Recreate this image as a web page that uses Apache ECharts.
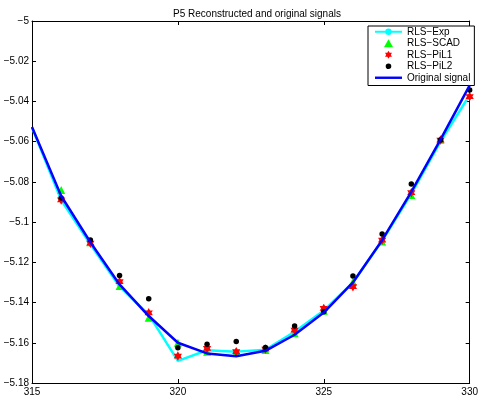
<!DOCTYPE html>
<html>
<head>
<meta charset="utf-8">
<script src="https://cdn.jsdelivr.net/npm/echarts@6/dist/echarts.min.js"></script>
<style>
html,body{margin:0;padding:0;background:#fff;}
#c{width:481px;height:400px;}
</style>
</head>
<body>
<div id="c"></div>
<script>
// ---- data ----
const titleText = 'P5 Reconstructed and original signals';
const seriesNames = ['RLS\u2212Exp', 'RLS\u2212SCAD', 'RLS\u2212PiL1', 'RLS\u2212PiL2', 'Original signal'];

const xLine = [315, 316, 317, 318, 319, 320, 321, 322, 323, 324, 325, 326, 327, 328, 329, 330];
const originalSignal = [-5.0527, -5.087, -5.110, -5.131, -5.1467, -5.160, -5.1653, -5.1667, -5.164, -5.156, -5.145, -5.130, -5.109, -5.085, -5.059, -5.032];
const rlsExp = [-5.053, -5.089, -5.111, -5.132, -5.146, -5.169, -5.1637, -5.1644, -5.1635, -5.1545, -5.144, -5.130, -5.1093, -5.086, -5.060, -5.0368];

const xPts = [316, 317, 318, 319, 320, 321, 322, 323, 324, 325, 326, 327, 328, 329, 330];
const rlsScad = [-5.084, -5.110, -5.1318, -5.1475, -5.160, -5.1644, -5.165, -5.1636, -5.1553, -5.1441, -5.1296, -5.1097, -5.0865, -5.059, -5.0297];
const rlsPil1 = [-5.089, -5.1105, -5.1296, -5.1451, -5.1666, -5.1628, -5.1644, -5.1631, -5.1537, -5.1429, -5.1321, -5.1089, -5.0854, -5.0592, -5.0376];
const rlsPil2 = [-5.088, -5.1089, -5.1266, -5.1381, -5.1625, -5.1607, -5.1594, -5.1623, -5.1517, -5.1446, -5.1268, -5.1059, -5.0811, -5.0592, -5.0343];

const xMin = 315, xMax = 330, xStep = 5;
const yMin = -5.18, yMax = -5, yStep = 0.02;

// ---- build ----
const zip = (xs, ys) => xs.map((x, i) => [x, ys[i]]);
const hexagram = 'path://M0,-10L2.887,-5L8.66,-5L5.774,0L8.66,5L2.887,5L0,10L-2.887,5L-8.66,5L-5.774,0L-8.66,-5L-2.887,-5Z';
const triIcon = 'path://M4,0L8,7L0,7Z';
const dotIcon = 'path://M0,0M8,8M4,1.2A2.8,2.8 0 1,1 3.99,1.2Z';
const lineIcon = 'path://M0,0L28,0L28,2.5L0,2.5Z';
const font = 'Liberation Sans, Arial, Helvetica, sans-serif';
const fmt = v => String(v).replace('-', '\u2212');

const chart = echarts.init(document.getElementById('c'), null, {renderer: 'canvas'});
const axisCommon = {
  axisLine: {show: true, onZero: false, lineStyle: {color: '#000', width: 1}},
  axisTick: {show: true, inside: true, length: 4, lineStyle: {color: '#000', width: 1}},
  splitLine: {show: false}
};
chart.setOption({
  animation: false,
  backgroundColor: '#fff',
  title: {
    text: titleText, left: 252, top: 4, textAlign: 'center',
    textStyle: {fontSize: 10, fontWeight: 'normal', color: '#000', fontFamily: font}
  },
  grid: {left: 32, right: 8, top: 21, bottom: 17, containLabel: false},
  legend: {
    orient: 'vertical', left: 368, top: 26,
    itemWidth: 27, itemHeight: 8, itemGap: 0,
    symbolKeepAspect: true,
    padding: [0, 4, 2, 6],
    borderColor: '#000', borderWidth: 1, backgroundColor: '#fff',
    textStyle: {fontSize: 10, color: '#000', fontFamily: font, lineHeight: 11.5},
    data: [
      {name: seriesNames[0]},
      {name: seriesNames[1], icon: triIcon},
      {name: seriesNames[2], icon: hexagram},
      {name: seriesNames[3], icon: dotIcon},
      {name: seriesNames[4], icon: lineIcon}
    ]
  },
  xAxis: [
    Object.assign({type: 'value', min: xMin, max: xMax, interval: xStep, position: 'bottom',
      axisLabel: {show: true, color: '#000', fontSize: 10, fontFamily: font, margin: 4, formatter: fmt}}, axisCommon),
    Object.assign({type: 'value', min: xMin, max: xMax, interval: xStep, position: 'top',
      axisLabel: {show: false}}, axisCommon)
  ],
  yAxis: [
    Object.assign({type: 'value', min: yMin, max: yMax, interval: yStep, position: 'left',
      axisLabel: {show: true, color: '#000', fontSize: 10, fontFamily: font, margin: 3, formatter: fmt}}, axisCommon),
    Object.assign({type: 'value', min: yMin, max: yMax, interval: yStep, position: 'right',
      axisLabel: {show: false}}, axisCommon)
  ],
  series: [
    {name: seriesNames[0], type: 'line', data: zip(xLine, rlsExp), symbol: 'circle', symbolSize: 6,
      showSymbol: false, lineStyle: {color: '#00ffff', width: 2.5}, itemStyle: {color: '#00ffff'}, z: 2},
    {name: seriesNames[1], type: 'scatter', data: zip(xPts, rlsScad), symbol: 'triangle', symbolSize: 8,
      itemStyle: {color: '#00ff00', opacity: 1}, z: 3},
    {name: seriesNames[2], type: 'scatter', data: zip(xPts, rlsPil1), symbol: hexagram, symbolKeepAspect: true, symbolSize: 9.5,
      itemStyle: {color: '#ff0000', opacity: 1}, z: 4},
    {name: seriesNames[3], type: 'scatter', data: zip(xPts, rlsPil2), symbol: 'circle', symbolSize: 5.5,
      itemStyle: {color: '#000000', opacity: 1}, z: 5},
    {name: seriesNames[4], type: 'line', data: zip(xLine, originalSignal), symbol: 'none',
      lineStyle: {color: '#0000ff', width: 2.5}, itemStyle: {color: '#0000ff'}, z: 6}
  ]
});
</script>
</body>
</html>
